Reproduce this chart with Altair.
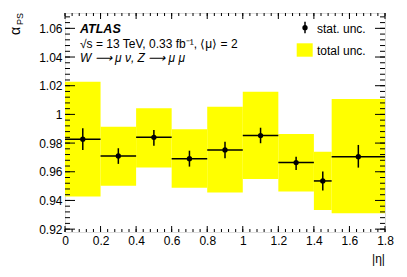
import altair as alt
import pandas as pd

# ---- data ----
bin_lo = [0.0, 0.2, 0.4, 0.6, 0.8, 1.0, 1.2, 1.4, 1.5]
bin_hi = [0.2, 0.4, 0.6, 0.8, 1.0, 1.2, 1.4, 1.5, 1.8]
bin_center = [0.1, 0.3, 0.5, 0.7, 0.9, 1.1, 1.3, 1.45, 1.65]
alpha_ps = [0.9827, 0.9710, 0.9840, 0.9691, 0.9752, 0.9852, 0.9664, 0.9536, 0.9705]
stat_lo = [0.9752, 0.9655, 0.9782, 0.9636, 0.9694, 0.9799, 0.9613, 0.9469, 0.9629]
stat_hi = [0.9903, 0.9764, 0.9891, 0.9747, 0.9810, 0.9907, 0.9705, 0.9601, 0.9787]
tot_lo = [0.9427, 0.9503, 0.9629, 0.9489, 0.9455, 0.9550, 0.9462, 0.9334, 0.9311]
tot_hi = [1.0228, 0.9914, 1.0042, 0.9896, 1.0054, 1.0158, 0.9863, 0.9740, 1.0107]

x_major = [0.0, 0.2, 0.4, 0.6, 0.8, 1.0, 1.2, 1.4, 1.6, 1.8]
x_minor = [round(i * 0.04, 2) for i in range(46)]
y_major = [0.92, 0.94, 0.96, 0.98, 1.0, 1.02, 1.04, 1.06]
y_minor = [round(0.92 + i * 0.004, 3) for i in range(38)]

X_DOMAIN = [0, 1.8]
Y_DOMAIN = [0.918, 1.0707]
W, H = 320, 219
FONT = "Liberation Sans"

df = pd.DataFrame({
    "lo": bin_lo, "hi": bin_hi, "c": bin_center, "v": alpha_ps,
    "slo": stat_lo, "shi": stat_hi, "tlo": tot_lo, "thi": tot_hi,
})

xs = alt.Scale(domain=X_DOMAIN, nice=False, zero=False)
ys = alt.Scale(domain=Y_DOMAIN, nice=False, zero=False)
xaxis = alt.Axis(values=x_major, labelExpr="format(datum.value, '.1~f')",
                 ticks=False, domain=False, grid=False, labelPadding=3,
                 labelFlush=False, labelOverlap=False,
                 labelFont=FONT, labelFontSize=12, labelColor="black", title=None)
yaxis = alt.Axis(values=y_major, labelExpr="format(datum.value, '.2~f')",
                 ticks=False, domain=False, grid=False, labelPadding=3,
                 labelFlush=False, labelOverlap=False,
                 labelFont=FONT, labelFontSize=12, labelColor="black", title=None)

base = alt.Chart(df)

band = base.mark_rect(color="#ffff00").encode(
    x=alt.X("lo:Q", scale=xs, axis=xaxis), x2="hi:Q",
    y=alt.Y("tlo:Q", scale=ys, axis=yaxis), y2="thi:Q",
)
hbar = base.mark_rule(color="black", strokeWidth=1.5).encode(
    x=alt.X("lo:Q", scale=xs, axis=xaxis), x2="hi:Q",
    y=alt.Y("v:Q", scale=ys, axis=yaxis),
)
vbar = base.mark_rule(color="black", strokeWidth=1.5).encode(
    x=alt.X("c:Q", scale=xs, axis=xaxis),
    y=alt.Y("slo:Q", scale=ys, axis=yaxis), y2="shi:Q",
)
pts = base.mark_point(filled=True, color="black", size=28, opacity=1, shape="circle").encode(
    x=alt.X("c:Q", scale=xs, axis=xaxis),
    y=alt.Y("v:Q", scale=ys, axis=yaxis),
)

# ---- inward ticks ----
def xt(vals, y0, y1):
    return alt.Chart(pd.DataFrame({"t": vals})).mark_rule(color="black", strokeWidth=1).encode(
        x=alt.X("t:Q", scale=xs, axis=xaxis), y=alt.value(y0), y2=alt.value(y1))

def yt(vals, x0, x1):
    return alt.Chart(pd.DataFrame({"t": vals})).mark_rule(color="black", strokeWidth=1).encode(
        y=alt.Y("t:Q", scale=ys, axis=yaxis), x=alt.value(x0), x2=alt.value(x1))

ticks = [
    xt(x_major, H, H - 6), xt(x_minor, H, H - 3),
    xt(x_major, 0, 6), xt(x_minor, 0, 3),
    yt(y_major, 0, 10), yt(y_minor, 0, 5),
    yt(y_major, W, W - 10), yt(y_minor, W, W - 5),
]

# ---- texts ----
def txt(s, x, y, size=12, weight="normal", style="normal", align="left", angle=0):
    return alt.Chart(pd.DataFrame({"s": [s]})).mark_text(
        font=FONT, fontSize=size, fontWeight=weight, fontStyle=style,
        align=align, baseline="alphabetic", angle=angle, color="black",
    ).encode(text="s:N", x=alt.value(x), y=alt.value(y))

texts = [
    txt("ATLAS", 15, 20, size=12.5, weight="bold", style="italic"),
    txt("√s = 13 TeV, 0.33 fb⁻¹, ⟨μ⟩ = 2", 15, 35, size=12),
    txt("W ⟶ μ ν, Z ⟶ μ μ", 15, 48.5, size=12, style="italic"),
    txt("stat. unc.", 252, 20, size=12),
    txt("total unc.", 252, 42, size=12),
    txt("|η|", 320, 250, size=12, align="right"),
    txt("α", -45, 22, size=14, angle=270),
    txt("PS", -42, 12, size=9, angle=270),
]

# legend symbols
leg_box = alt.Chart(pd.DataFrame({"a": [0]})).mark_rect(color="#ffff00").encode(
    x=alt.value(231.7), x2=alt.value(247.7), y=alt.value(30.3), y2=alt.value(43.7))
leg_bar = alt.Chart(pd.DataFrame({"a": [0]})).mark_rule(color="black", strokeWidth=1.5).encode(
    x=alt.value(240), y=alt.value(8.7), y2=alt.value(20.3))
leg_pt = alt.Chart(pd.DataFrame({"a": [0]})).mark_point(
    filled=True, color="black", size=28, opacity=1, shape="circle").encode(
    x=alt.value(240), y=alt.value(14.7))

chart = alt.layer(band, hbar, vbar, pts, *ticks, leg_box, leg_bar, leg_pt, *texts).properties(
    width=W, height=H,
    autosize=alt.AutoSizeParams(type="none"),
    padding={"left": 57, "top": 5, "right": 12, "bottom": 36},
).configure_view(stroke="black", strokeWidth=1).configure(background="white")

chart.save("out.html", embed_options={"renderer": "svg", "actions": False})
